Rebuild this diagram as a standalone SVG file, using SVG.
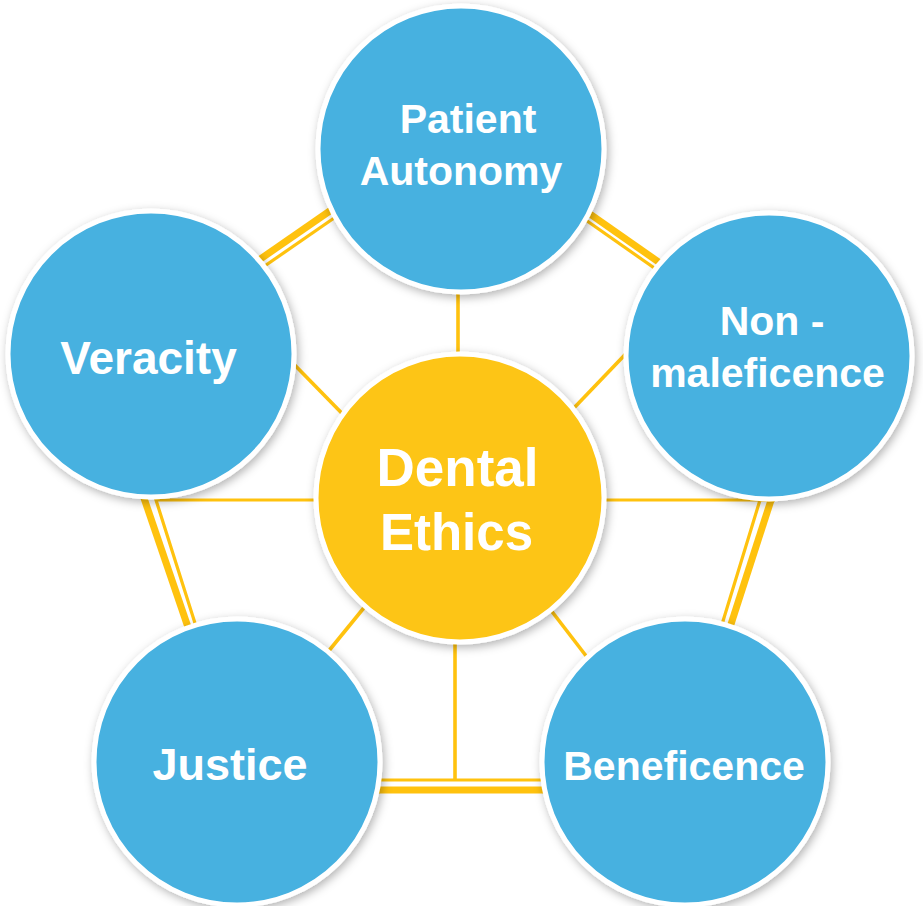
<svg xmlns="http://www.w3.org/2000/svg" width="923" height="906" viewBox="0 0 923 906">
  <style>
    .thick { stroke: #FFC20E; stroke-width: 7; fill: none; }
    .thin { stroke: #FFC20E; stroke-width: 3.2; fill: none; }
    .radial { stroke: #FFC20E; stroke-width: 3.6; fill: none; }
    .blue { fill: #46B1E0; stroke: #FFFFFF; stroke-width: 5; filter: url(#shadow); }
    .yellow { fill: #FDC514; stroke: #FFFFFF; stroke-width: 5; filter: url(#shadow); }
    .lbl { font-family: "Liberation Sans", Arial, sans-serif; font-weight: bold; fill: #FFFFFF; text-anchor: middle; }
  </style>
  <defs>
    <filter id="shadow" x="-20%" y="-20%" width="140%" height="140%">
      <feDropShadow dx="2" dy="3" stdDeviation="5" flood-color="#000000" flood-opacity="0.3"/>
    </filter>
  </defs>
  <rect width="923" height="906" fill="#FFFFFF"/>
  <g id="connectors">
    <!-- outer double pentagon -->
    <line class="thick" x1="230" y1="280" x2="350" y2="197"/>
    <line class="thin" x1="230" y1="290" x2="350" y2="207"/>
    <line class="thick" x1="570" y1="200" x2="690" y2="284"/>
    <line class="thin" x1="570" y1="209" x2="690" y2="293"/>
    <line class="thick" x1="131" y1="460" x2="206" y2="680"/>
    <polyline class="thin" points="213,680 156,500 760,500 705,680"/>
    <line class="thin" x1="760" y1="500" x2="775" y2="500"/>
    <line class="thick" x1="784" y1="460" x2="713" y2="680"/>
    <line class="thin" x1="360" y1="780" x2="560" y2="780"/>
    <line class="thick" x1="360" y1="790" x2="560" y2="790"/>
    <!-- radial -->
    <line class="radial" x1="458" y1="280" x2="458" y2="370"/>
    <line class="radial" x1="455" y1="620" x2="455" y2="780"/>
    <line class="radial" x1="280" y1="350" x2="370" y2="442"/>
    <line class="radial" x1="640" y1="339" x2="550" y2="433"/>
    <line class="radial" x1="380" y1="588" x2="310" y2="674"/>
    <line class="radial" x1="540" y1="596" x2="610" y2="687"/>
  </g>
  <g id="node-patient-autonomy">
    <circle class="blue" cx="461" cy="149" r="143"/>
    <text class="lbl" x="468" y="133" font-size="41">Patient</text>
    <text class="lbl" x="461" y="185" font-size="41">Autonomy</text>
  </g>
  <g id="node-veracity">
    <circle class="blue" cx="151" cy="354" r="143"/>
    <text class="lbl" x="148.5" y="374" font-size="46">Veracity</text>
  </g>
  <g id="node-non-maleficence">
    <circle class="blue" cx="769" cy="356" r="143"/>
    <text class="lbl" x="772" y="335" font-size="41">Non -</text>
    <text class="lbl" x="767.5" y="387" font-size="41">maleficence</text>
  </g>
  <g id="node-justice">
    <circle class="blue" cx="237" cy="762" r="143"/>
    <text class="lbl" x="230" y="780" font-size="45">Justice</text>
  </g>
  <g id="node-beneficence">
    <circle class="blue" cx="685" cy="762" r="143"/>
    <text class="lbl" x="684" y="780" font-size="41">Beneficence</text>
  </g>
  <g id="node-dental-ethics">
    <circle class="yellow" cx="460" cy="498" r="144"/>
    <text class="lbl" x="457.5" y="486" font-size="53">Dental</text>
    <text class="lbl" x="456.5" y="550" font-size="51">Ethics</text>
  </g>
</svg>
